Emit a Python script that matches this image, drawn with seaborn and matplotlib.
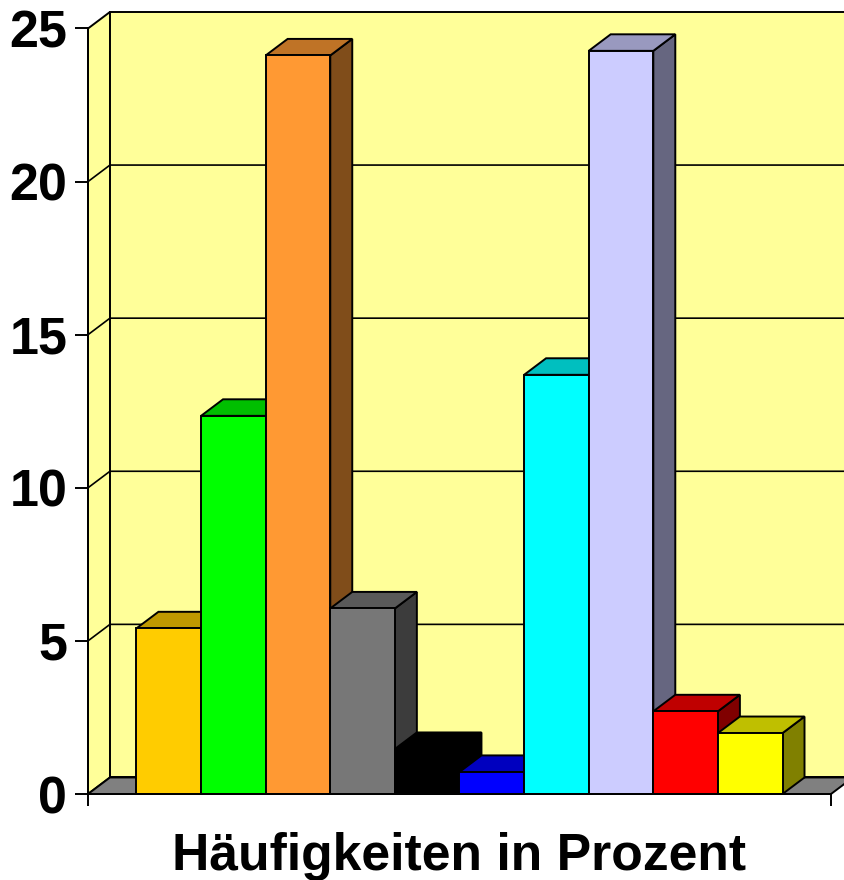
import matplotlib
matplotlib.use("Agg")
import matplotlib.pyplot as plt
import matplotlib.colors as mcolors
from matplotlib.patches import Polygon
import seaborn as sns

categories = ["A", "B", "C", "D", "E", "F", "G", "H", "I", "J"]
values = [5.41, 12.35, 24.12, 6.06, 1.47, 0.72, 13.69, 24.27, 2.7, 1.99]
bar_colors = ["#FFCC00", "#00FF00", "#FF9933", "#777777", "#000000",
              "#0000FF", "#00FFFF", "#CCCCFF", "#FF0000", "#FFFF00"]
y_ticks = [0, 5, 10, 15, 20, 25]

# depth of the fake 3d box, in data units
DX = 0.34
DY = 0.54
WALL = "#FFFF99"
FLOOR = "#808080"
LW = 1.4


def shade(color, factor):
    r, g, b = mcolors.to_rgb(color)
    return (r * factor, g * factor, b * factor)


sns.set_style("white")
plt.rcParams["font.family"] = ["Liberation Sans", "DejaVu Sans"]

fig = plt.figure(figsize=(8.45, 8.8), dpi=100)
ax = fig.add_axes([88 / 845, 86 / 880, 743 / 845, 765.5 / 880])

sns.barplot(x=categories, y=values, hue=categories, palette=bar_colors,
            width=1, gap=0, dodge=False, legend=False, saturation=1,
            edgecolor="black", linewidth=LW, ax=ax)

x0, x1 = -1.25, 10.25
ax.set_xlim(x0, x1)
ax.set_ylim(0, 25)


def face(points, color, z):
    ax.add_patch(Polygon(points, closed=True, facecolor=color, edgecolor="black",
                         linewidth=LW, clip_on=False, zorder=z))


# walls and floor behind the bars
face([(x0, 0), (x0 + DX, DY), (x0 + DX, 25 + DY), (x0, 25)], WALL, 1)
face([(x0 + DX, DY), (x1 + DX, DY), (x1 + DX, 25 + DY), (x0 + DX, 25 + DY)], WALL, 1)
face([(x0, 0), (x0 + DX, DY), (x1 + DX, DY), (x1, 0)], FLOOR, 1.5)

for t in y_ticks[1:-1]:
    ax.plot([x0, x0 + DX, x1 + DX], [t, t + DY, t + DY], color="black",
            linewidth=1.2, clip_on=False, zorder=2)

# side and top faces, left to right so later bars cover earlier ones
for i, bar in enumerate(ax.patches[:len(categories)]):
    left = bar.get_x()
    right = left + bar.get_width()
    h = bar.get_height()
    color = bar.get_facecolor()
    z = 3 + i
    face([(right, 0), (right + DX, DY), (right + DX, h + DY), (right, h)], shade(color, 0.5), z)
    face([(left, h), (left + DX, h + DY), (right + DX, h + DY), (right, h)], shade(color, 0.75), z)
    bar.set_zorder(z + 0.5)

sns.despine(ax=ax, top=True, right=True)
for side in ["left", "bottom"]:
    ax.spines[side].set_linewidth(LW)
    ax.spines[side].set_color("black")
    ax.spines[side].set_zorder(30)

ax.set_xticks([x0, x1])
ax.set_xticklabels(["", ""])
ax.set_yticks(y_ticks)
ax.tick_params(axis="x", bottom=True, length=8.6, width=LW, color="black")
ax.tick_params(axis="y", left=True, length=9.4, width=LW, color="black", pad=5.5)
for label in ax.get_yticklabels():
    label.set_fontsize(37.5)
    label.set_fontweight("bold")
    label.set_color("black")

ax.set_xlabel("Häufigkeiten in Prozent", fontsize=37.2, fontweight="bold",
              color="black", labelpad=15)

fig.savefig("out.png", dpi=100, facecolor="white")
